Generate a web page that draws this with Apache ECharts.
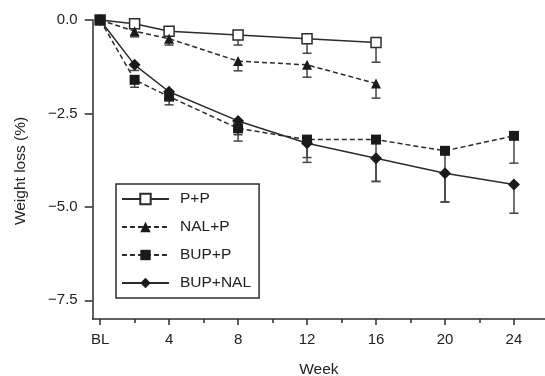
<!DOCTYPE html>
<html>
<head>
<meta charset="utf-8">
<script src="https://cdn.jsdelivr.net/npm/echarts@6/dist/echarts.min.js"></script>
<style>
  html, body { margin: 0; padding: 0; background: #fff; }
  #chart { width: 545px; height: 376px; }
</style>
</head>
<body>
<div id="chart"></div>
<script>
// weeks of follow-up (BL = 0)
const weeks = [0, 2, 4, 8, 12, 16, 20, 24]
const majorTicks = [0, 4, 8, 12, 16, 20, 24]
const minorTicks = [2, 6, 10, 14, 18, 22]
const yTicks = [0, -2.5, -5, -7.5]

// mean weight loss (%) per group, and lower end of error bar
const ppMean = [0, -0.1, -0.3, -0.4, -0.5, -0.6]
const ppLow = [0, -0.2, -0.4, -0.67, -0.89, -1.13]
const nalMean = [0, -0.3, -0.5, -1.1, -1.2, -1.7]
const nalLow = [0, -0.45, -0.67, -1.36, -1.53, -2.09]
const bupMean = [0, -1.6, -2.05, -2.9, -3.2, -3.2, -3.5, -3.1]
const bupLow = [0, -1.8, -2.27, -3.24, -3.81, -4.32, -4.87, -3.83]
const bnMean = [0, -1.2, -1.92, -2.7, -3.3, -3.7, -4.1, -4.4]
const bnLow = [0, -1.35, -2.12, -3.07, -3.68, -4.32, -4.87, -5.17]

const INK = '#2b2b2b'
const FONT = 'Liberation Sans, Arial, sans-serif'

const pts = (mean) => mean.map((v, i) => [weeks[i], v])
const errPts = (mean, low) => mean.map((v, i) => [weeks[i], v, low[i]])

// vertical error bar (downward only) with a cap
function renderErr(params, api) {
  const x = api.value(0)
  const top = api.coord([x, api.value(1)])
  const bot = api.coord([x, api.value(2)])
  const style = { stroke: '#444', lineWidth: 1.5 }
  return {
    type: 'group',
    children: [
      { type: 'line', shape: { x1: top[0], y1: top[1], x2: bot[0], y2: bot[1] }, style },
      { type: 'line', shape: { x1: bot[0] - 4.5, y1: bot[1], x2: bot[0] + 4.5, y2: bot[1] }, style },
    ],
  }
}

function lineSeries(name, mean, symbol, size, dashed, fill) {
  return {
    name,
    type: 'line',
    data: pts(mean),
    symbol,
    symbolSize: size,
    showAllSymbol: true,
    lineStyle: { color: INK, width: 1.5, type: dashed ? [5, 3] : 'solid' },
    itemStyle: { color: fill, borderColor: INK, borderWidth: fill === '#fff' ? 1.5 : 0, opacity: 1 },
    z: 3,
    animation: false,
  }
}

function errSeries(mean, low) {
  return {
    type: 'custom',
    data: errPts(mean, low),
    renderItem: renderErr,
    z: 2,
    silent: true,
    animation: false,
  }
}

const chart = echarts.init(document.getElementById('chart'))

chart.setOption({
  backgroundColor: '#fff',
  animation: false,
  textStyle: { fontFamily: FONT },
  grid: { left: 92.7, right: 0, top: 20, bottom: 57, containLabel: false, outerBoundsMode: 'none' },
  xAxis: [
    {
      type: 'value', min: -0.43, max: 25.8, position: 'bottom',
      axisLine: { onZero: false, lineStyle: { color: INK, width: 1.5 } },
      axisTick: { length: 6, lineStyle: { color: INK, width: 1.5 }, customValues: majorTicks },
      axisLabel: {
        customValues: majorTicks, color: '#222', fontSize: 15, margin: 13,
        formatter: v => (v === 0 ? 'BL' : String(v)),
      },
      splitLine: { show: false },
      name: 'Week', nameLocation: 'middle', nameGap: 43,
      nameTextStyle: { color: '#222', fontSize: 15.5 },
    },
    {
      type: 'value', min: -0.43, max: 25.8, position: 'bottom',
      axisLine: { show: false, onZero: false },
      axisTick: { length: 4, lineStyle: { color: INK, width: 1.5 }, customValues: minorTicks },
      axisLabel: { show: false },
      splitLine: { show: false },
    },
  ],
  yAxis: {
    type: 'value', min: -8, max: 0,
    axisLine: { show: true, onZero: false, lineStyle: { color: INK, width: 1.5 } },
    axisTick: { show: true, length: 8, lineStyle: { color: INK, width: 1.5 }, customValues: yTicks },
    axisLabel: {
      customValues: yTicks, color: '#222', fontSize: 15, margin: 15,
      formatter: v => (v < 0 ? '\u2212' + Math.abs(v).toFixed(1) : v.toFixed(1)),
    },
    splitLine: { show: false },
  },
  graphic: [
    {
      type: 'text', x: 21, y: 171, rotation: Math.PI / 2,
      style: { text: 'Weight loss (%)', fill: '#222', font: '15.5px ' + FONT, align: 'center', verticalAlign: 'middle' },
    },
  ],
  legend: {
    orient: 'vertical',
    left: 116, top: 184,
    padding: [7, 8, 7, 5],
    itemWidth: 47, itemHeight: 13, itemGap: 12,
    borderColor: INK, borderWidth: 1.5,
    textStyle: { color: '#222', fontSize: 15.5, padding: [0, 0, 0, 6] },
    data: ['P+P', 'NAL+P', 'BUP+P', 'BUP+NAL'],
  },
  series: [
    errSeries(ppMean, ppLow),
    errSeries(nalMean, nalLow),
    errSeries(bupMean, bupLow),
    errSeries(bnMean, bnLow),
    lineSeries('P+P', ppMean, 'rect', 10, false, '#fff'),
    lineSeries('NAL+P', nalMean, 'triangle', 10, true, '#1a1a1a'),
    lineSeries('BUP+P', bupMean, 'rect', 10, true, '#1a1a1a'),
    lineSeries('BUP+NAL', bnMean, 'diamond', 12, false, '#1a1a1a'),
  ],
})
</script>
</body>
</html>
